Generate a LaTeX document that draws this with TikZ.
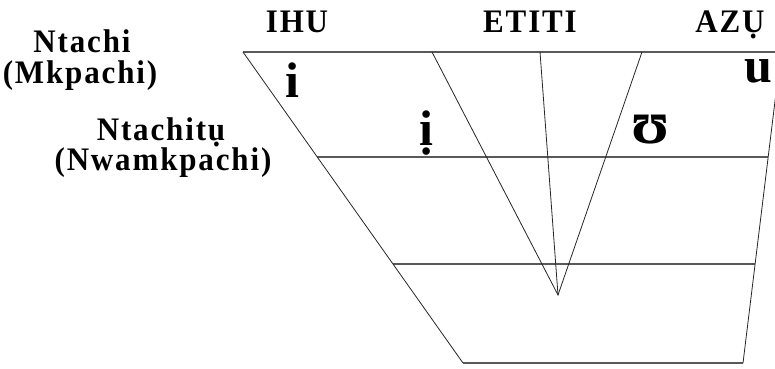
\documentclass[tikz,border=0pt]{standalone}
\usepackage{fontspec}
\usepackage{graphicx}
\setmainfont{Liberation Serif}
\newfontfamily\lbl[LetterSpace=6]{Liberation Serif}
\usetikzlibrary{calc}
\newcommand{\tallt}[1]{\scalebox{1}[1.06]{#1}}
\begin{document}
\begin{tikzpicture}[x=1pt,y=-1pt,
  hline/.style={draw=black!65,line width=1.3pt},
  sline/.style={draw=black!85,line width=0.8pt},
  head/.style={anchor=base,inner sep=0pt,font=\lbl\bfseries\fontsize{31}{33}\selectfont},
  vow/.style={anchor=base,inner sep=0pt,font=\bfseries\fontsize{50}{52}\selectfont}]
\useasboundingbox (0,0) rectangle (775,368);
\coordinate (TL) at (243,52);
\coordinate (RT) at (781,52);
\coordinate (TE) at (790,52);
\coordinate (BL) at (463,363);
\coordinate (BR) at (743,363);
\coordinate (A) at (558,295);
\coordinate (P1) at (432,52);
\coordinate (P2) at (540,52);
\coordinate (P3) at (642,52);
\coordinate (ML) at ($(TL)!0.3376!(BL)$);
\coordinate (MR) at ($(RT)!0.3376!(BR)$);
\coordinate (LL) at ($(TL)!0.6817!(BL)$);
\coordinate (LR) at ($(RT)!0.6817!(BR)$);
\draw[hline] (TL) -- (TE);
\draw[hline] (ML) -- (MR);
\draw[hline] (LL) -- (LR);
\draw[hline] (BL) -- (BR);
\draw[sline] (TL) -- (BL);
\draw[sline] (RT) -- (BR);
\draw[sline] (P1) -- (A) -- (P3);
\draw[sline] (P2) -- (A);
\node[head] (ihu) at (297,32) {\tallt{IHU}};
\node[head] (etiti) at (530,32) {\tallt{ETITI}};
\node[head] (azu) at (730,32) {\tallt{AZỤ}};
\node[head] (n1) at (82,52) {\tallt{Ntachi}};
\node[head] (n1b) at (80,83) {\tallt{(Mkpachi)}};
\node[head] (n2) at (161,140) {\tallt{Ntachitụ}};
\node[head] (n2b) at (163,170) {\tallt{(Nwamkpachi)}};
\node[vow] (vi) at (292,97) {i};
\node[vow] (vu) at (758,82) {u};
\node[vow] (vii) at (426,145) {ị};
\node[vow,font=\bfseries\fontsize{62}{64}\selectfont] (vup) at (651,143) {ʊ};
\end{tikzpicture}
\end{document}
